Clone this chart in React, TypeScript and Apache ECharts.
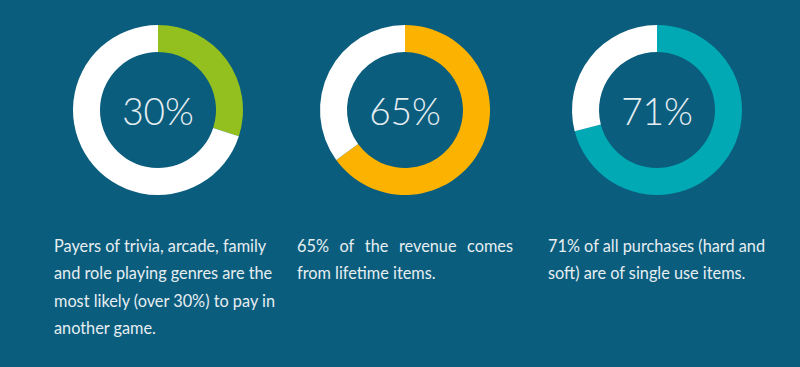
import React, { useEffect, useRef } from "react";
import * as echarts from "echarts";

const percents = [30, 65, 71];
const labels = ["30%", "65%", "71%"];
const colors = ["#93c01f", "#fcb200", "#00a9b4"];
const centersX = [158, 405, 657];
const captions: string[][] = [
  ["Payers of trivia, arcade, family", "and role playing genres are the", "most likely (over 30%) to pay in", "another game."],
  ["65%  of  the  revenue  comes", "from lifetime items."],
  ["71% of all purchases (hard and", "soft) are of single use items."],
];
const captionX = [54, 297, 548];
const captionWidth = [216, 216, 215];

const BG = "#0b5d7d";
const TXT = "#e6eef2";
const FONT = "Lato, 'Open Sans', sans-serif";
const CAPTION_FONT = `16.3px ${FONT}`;

export default function App() {
  const ref = useRef<HTMLDivElement>(null);
  useEffect(() => {
    if (!ref.current) return;
    const chart = echarts.init(ref.current, null, { renderer: "svg" });
    const series = percents.map((p, i) => ({
      type: "pie",
      center: [centersX[i], 110],
      radius: [58, 85],
      startAngle: 90,
      clockwise: true,
      silent: true,
      avoidLabelOverlap: false,
      labelLine: { show: false },
      data: [
        {
          value: p,
          name: labels[i],
          itemStyle: { color: colors[i] },
          label: {
            show: true,
            position: "center",
            formatter: labels[i],
            color: TXT,
            fontSize: 37,
            fontWeight: 300,
            fontFamily: FONT,
          },
        },
        { value: 100 - p, name: "rest", itemStyle: { color: "#ffffff" }, label: { show: false } },
      ],
    }));
    const ctx = document.createElement("canvas").getContext("2d")!;
    ctx.font = CAPTION_FONT;
    const measure = (s: string) => ctx.measureText(s).width;
    const graphics: any[] = [];
    captions.forEach((lines, ci) => {
      lines.forEach((line, li) => {
        const y = 245 + li * 27.5;
        if (ci === 1 && li === 0) {
          const words = line.split(/\s+/);
          const ws = words.map(measure);
          const total = ws.reduce((a, b) => a + b, 0);
          const gap = (captionWidth[ci] - total) / (words.length - 1);
          let x = captionX[ci];
          words.forEach((w, wi) => {
            graphics.push({
              type: "text",
              x,
              y,
              style: { text: w, fill: TXT, font: CAPTION_FONT, textVerticalAlign: "middle" },
            });
            x += ws[wi] + gap;
          });
        } else {
          graphics.push({
            type: "text",
            x: captionX[ci],
            y,
            style: { text: line, fill: TXT, font: CAPTION_FONT, textVerticalAlign: "middle" },
          });
        }
      });
    });
    chart.setOption({
      animation: false,
      backgroundColor: BG,
      series,
      graphic: graphics,
    });
    return () => chart.dispose();
  }, []);
  return <div ref={ref} style={{ width: 800, height: 367, position: "absolute", left: 0, top: 0 }} />;
}
